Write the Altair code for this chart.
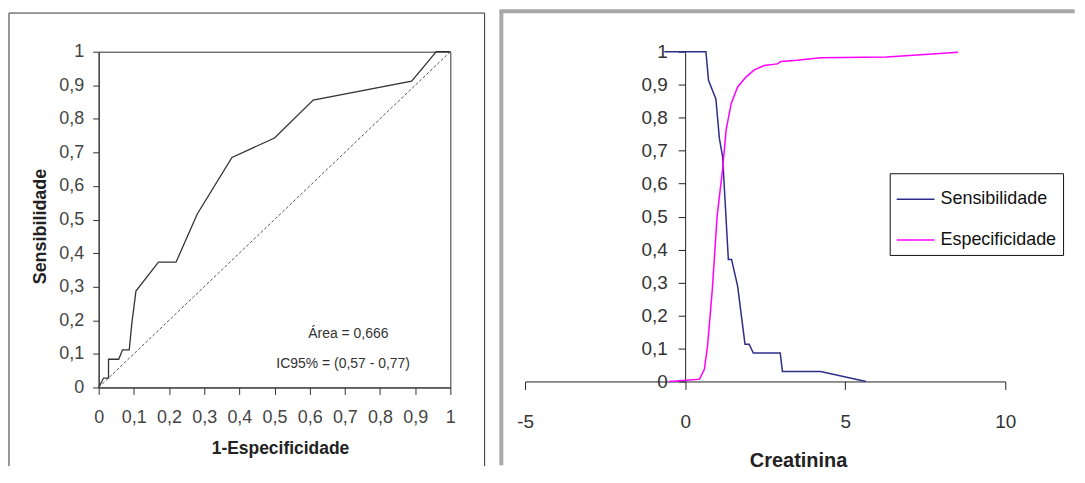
import altair as alt
import pandas as pd

# ---------------- data ----------------
# Left panel: ROC curve
roc_fpr = [0, 0.014, 0.028, 0.028, 0.057, 0.068, 0.087, 0.094, 0.106, 0.170,
           0.220, 0.280, 0.379, 0.500, 0.610, 0.890, 0.960, 1.0]
roc_sens = [0, 0.028, 0.028, 0.084, 0.084, 0.112, 0.112, 0.188, 0.287, 0.373,
            0.373, 0.516, 0.685, 0.743, 0.856, 0.912, 1.0, 1.0]
ref_x = [0, 1]
ref_y = [0, 1]
annot_text = ["Área = 0,666", "IC95% = (0,57 - 0,77)"]
annot_x = [0.71, 0.695]
annot_y = [0.159, 0.07]

# Right panel: sensitivity / specificity vs creatinine
series_names = ["Sensibilidade", "Especificidade"]
series_colors = ["#2e2e8a", "#ff00ff"]
sens_creat = [-0.65, 0.65, 0.73, 0.96, 1.07, 1.17, 1.35, 1.45, 1.64, 1.87,
              2.0, 2.13, 2.97, 3.04, 4.23, 5.65]
sens_val = [1, 1, 0.913, 0.857, 0.737, 0.682, 0.37, 0.37, 0.289, 0.113,
            0.113, 0.086, 0.086, 0.03, 0.03, 0]
spec_creat = [-0.5, 0.03, 0.45, 0.6, 0.7, 0.85, 1.0, 1.17, 1.28, 1.44, 1.64,
              1.9, 2.16, 2.47, 2.88, 2.99, 3.5, 4.23, 6.3, 8.53]
spec_val = [0, 0.004, 0.007, 0.037, 0.107, 0.28, 0.502, 0.643, 0.763, 0.843,
            0.893, 0.923, 0.945, 0.958, 0.963, 0.97, 0.974, 0.982, 0.984, 0.998]

y_ticks = [round(i * 0.1, 1) for i in range(11)]
x_ticks_right = [-5, 0, 5, 10]

# ---------------- tables ----------------
roc = pd.DataFrame({"fpr": roc_fpr, "sens": roc_sens, "idx": list(range(len(roc_fpr)))})
diag = pd.DataFrame({"fpr": ref_x, "sens": ref_y})
ann = pd.DataFrame({"fpr": annot_x, "sens": annot_y, "t": annot_text})
curves = pd.concat([
    pd.DataFrame({"creat": sens_creat, "val": sens_val, "serie": series_names[0],
                  "idx": list(range(len(sens_creat)))}),
    pd.DataFrame({"creat": spec_creat, "val": spec_val, "serie": series_names[1],
                  "idx": list(range(len(spec_creat)))}),
])
one = pd.DataFrame({"k": [0]})

LAB = "replace(format(datum.value, '.1~f'), '.', ',')"
LAB_INT = "datum.value < 0 ? '-' + abs(datum.value) : '' + datum.value"
FONT = "Liberation Sans"


def vrule(x, y1, y2, color, w):
    return alt.Chart(one).mark_rule(color=color, strokeWidth=w).encode(
        x=alt.value(x), y=alt.value(y1), y2=alt.value(y2))


def hrule(y, x1, x2, color, w):
    return alt.Chart(one).mark_rule(color=color, strokeWidth=w).encode(
        y=alt.value(y), x=alt.value(x1), x2=alt.value(x2))


# ---------------- left panel ----------------
LW, LH = 353, 337
xs = alt.Scale(domain=[0, 1], nice=False, zero=False)
ys = alt.Scale(domain=[0, 1], nice=False, zero=False)

x_axis_l = alt.Axis(values=y_ticks, labelExpr=LAB, title="1-Especificidade", grid=False,
                    domainColor="#333", tickColor="#333", tickSize=7, labelPadding=14,
                    labelFont=FONT, labelFontSize=18, labelColor="#444",
                    labelFlush=False, labelOverlap=False,
                    titleFont=FONT, titleFontSize=17.5, titleFontWeight="bold",
                    titleColor="#222",
                    titleX=182, titleY=61, titleBaseline="middle", titleAlign="center")
y_axis_l = alt.Axis(values=y_ticks, labelExpr=LAB, title="Sensibilidade", grid=False,
                    domainColor="#333", tickColor="#333", tickSize=6, labelPadding=9,
                    labelFont=FONT, labelFontSize=18, labelColor="#444", labelOverlap=False,
                    titleFont=FONT, titleFontSize=18, titleFontWeight="bold", titleColor="#222",
                    titleX=-58, titleY=175, titleAngle=-90, titleBaseline="middle",
                    titleAlign="center")

X_L = alt.X("fpr:Q", scale=xs, axis=x_axis_l)
Y_L = alt.Y("sens:Q", scale=ys, axis=y_axis_l)

roc_line = alt.Chart(roc).mark_line(color="#333", strokeWidth=1.3).encode(
    x=X_L, y=Y_L, order="idx:Q")
diag_line = alt.Chart(diag).mark_line(color="#555", strokeWidth=1, strokeDash=[3, 2]).encode(
    x=X_L, y=Y_L)
ann_text = alt.Chart(ann).mark_text(font=FONT, fontSize=14, color="#333", align="center",
                                    baseline="middle").encode(
    x=X_L, y=Y_L, text="t:N")

FR = "#333"
left = alt.layer(
    roc_line, diag_line, ann_text,
    vrule(-90, -38.8, 416, FR, 1),
    hrule(-38.8, -90, 387.4, FR, 1),
    vrule(387.4, -38.8, 416, FR, 1),
).properties(width=LW, height=LH, view=alt.ViewBackground(stroke="#333", strokeWidth=1))

# ---------------- right panel ----------------
RW, RH = 482, 331
xr = alt.Scale(domain=[-5, 10], nice=False, zero=False)
yr = alt.Scale(domain=[0, 1], nice=False, zero=False)
zero_px = RW * 5 / 15

x_axis_r = alt.Axis(values=x_ticks_right, labelExpr=LAB_INT, title="Creatinina", grid=False,
                    domainColor="#222", tickColor="#222", tickSize=8, labelPadding=23,
                    labelFont=FONT, labelFontSize=19, labelColor="#333",
                    labelFlush=False, labelOverlap=False,
                    titleFont=FONT, titleFontSize=20, titleFontWeight="bold", titleColor="#222",
                    titleX=274, titleY=79, titleBaseline="middle", titleAlign="center")
y_axis_r = alt.Axis(values=y_ticks, labelExpr=LAB, title=None, grid=False, offset=-zero_px,
                    domainColor="#222", tickColor="#222", tickSize=7, labelPadding=11,
                    labelFont=FONT, labelFontSize=19, labelColor="#333", labelOverlap=False)

curve_lines = alt.Chart(curves).mark_line(strokeWidth=1.5).encode(
    x=alt.X("creat:Q", scale=xr, axis=x_axis_r),
    y=alt.Y("val:Q", scale=yr, axis=y_axis_r),
    color=alt.Color("serie:N",
                    scale=alt.Scale(domain=series_names, range=series_colors),
                    sort=series_names,
                    legend=alt.Legend(title=None, orient="none", legendX=794, legendY=122,
                                      strokeColor="#111", fillColor="white", padding=6,
                                      symbolType="stroke", symbolSize=1444,
                                      symbolStrokeWidth=1.5, labelOffset=5,
                                      labelFont=FONT, labelFontSize=18, labelColor="#111",
                                      rowPadding=12)),
    order="idx:Q",
)

BR = "#a8a8a8"
right = alt.layer(
    curve_lines,
    vrule(-23.8, -40.5, 415, BR, 4),
    hrule(-40.5, -25.8, 551.7, BR, 4),
).properties(width=RW, height=RH, view=alt.ViewBackground(stroke=None))

chart = alt.hconcat(left, right, spacing=11).properties(padding=0).configure(
    background="white")

chart.save("out.html", embed_options={"renderer": "svg", "actions": False})
